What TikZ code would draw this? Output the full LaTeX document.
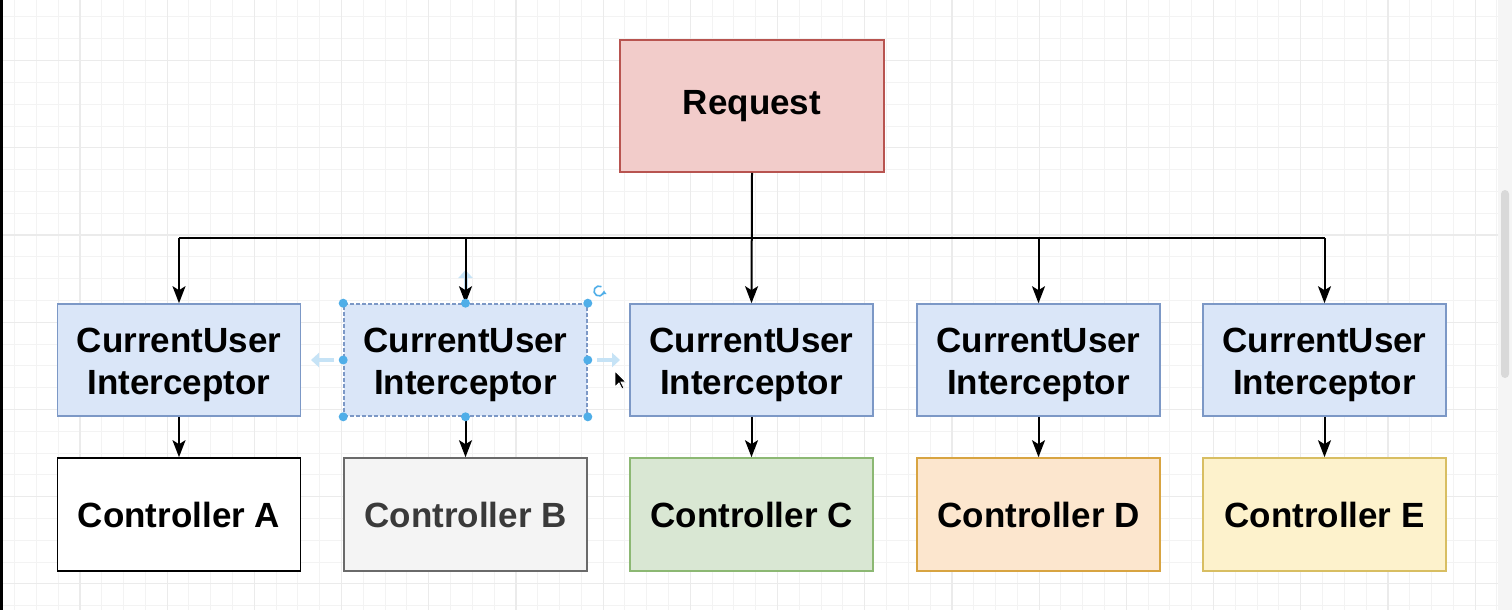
\documentclass[tikz,border=0pt]{standalone}
\usepackage{fontspec}
\setmainfont{Liberation Sans}
\usetikzlibrary{arrows.meta}
\definecolor{reqfill}{HTML}{F2CCCA}
\definecolor{reqdraw}{HTML}{B85450}
\definecolor{intfill}{HTML}{DAE6F8}
\definecolor{intdraw}{HTML}{7C98C6}
\definecolor{bfill}{HTML}{F4F4F4}
\definecolor{bdraw}{HTML}{6A6A6A}
\definecolor{btext}{HTML}{3A3A3A}
\definecolor{cfill}{HTML}{D9E7D3}
\definecolor{cdraw}{HTML}{8CB873}
\definecolor{dfill}{HTML}{FCE6CE}
\definecolor{ddraw}{HTML}{D8A441}
\definecolor{efill}{HTML}{FDF2CC}
\definecolor{edraw}{HTML}{D8BE62}
\definecolor{gridminor}{HTML}{F3F3F3}
\definecolor{gridmajor}{HTML}{EBEBEB}
\definecolor{handle}{HTML}{4FAEE8}
\definecolor{hover}{HTML}{C6E3F6}
\tikzset{
  boxfont/.style={font=\fontsize{35}{42}\selectfont\bfseries},
  boxbase/.style={rectangle, line width=1.6pt, inner sep=0pt, align=center, boxfont},
  reqbox/.style={boxbase, fill=reqfill, draw=reqdraw, minimum width=264pt, minimum height=132pt},
  intbox/.style={boxbase, fill=intfill, draw=intdraw, minimum width=243pt, minimum height=112pt},
  inttext/.style={label={[boxfont, align=center, inner sep=0pt, yshift=-5pt]center:CurrentUser\\Interceptor}},
  ctlbox/.style={boxbase, minimum width=243pt, minimum height=113pt},
  wire/.style={line width=2pt, black},
  arr/.style={wire, -{Stealth[length=17pt,width=13pt,inset=4pt]}},
  hoverarr/.style={line width=4pt, hover, -{Triangle[length=8pt,width=14pt]}},
  handledot/.style={circle, fill=handle, inner sep=0pt, minimum size=9pt}
}
\begin{document}
\begin{tikzpicture}[x=1pt,y=-1pt]
\useasboundingbox (0,0) rectangle (1512,610);
\fill[white] (0,0) rectangle (1512,610);
% grid
\foreach \i in {0,...,68} {\draw[gridminor, line width=1pt] ({14.5+21.8*\i},0) -- ({14.5+21.8*\i},610);}
\foreach \j in {0,...,27} {\draw[gridminor, line width=1pt] (0,{17+21.8*\j}) -- (1512,{17+21.8*\j});}
\foreach \i in {0,...,17} {\draw[gridmajor, line width=1.2pt] ({79.9+87.2*\i},0) -- ({79.9+87.2*\i},610);}
\foreach \j in {0,...,6} {\draw[gridmajor, line width=1.2pt] (0,{60.6+87.2*\j}) -- (1512,{60.6+87.2*\j});}
% left strip and scrollbar
\fill[black] (0,0) rectangle (3,610);
\fill[gray!8] (1498,0) rectangle (1512,610);
\fill[gray!30, rounded corners=4pt] (1501,190) rectangle (1509,378);

% nodes
\node[reqbox] (req) at (752,106) {Request};
\node[intbox, inttext] (iA) at (179,360) {};
\node[intbox, inttext, dash pattern=on 4pt off 2pt] (iB) at (465.5,360) {};
\node[intbox, inttext] (iC) at (751.5,360) {};
\node[intbox, inttext] (iD) at (1038.5,360) {};
\node[intbox, inttext] (iE) at (1324.5,360) {};
\node[ctlbox, fill=white, draw=black] (cA) at (179,514.5) {Controller A};
\node[ctlbox, fill=bfill, draw=bdraw, text=btext] (cB) at (465.5,514.5) {Controller B};
\node[ctlbox, fill=cfill, draw=cdraw] (cC) at (751.5,514.5) {Controller C};
\node[ctlbox, fill=dfill, draw=ddraw] (cD) at (1038.5,514.5) {Controller D};
\node[ctlbox, fill=efill, draw=edraw] (cE) at (1324.5,514.5) {Controller E};

% bus
\coordinate (jA) at (179,238);
\coordinate (jB) at (465.5,238);
\coordinate (jD) at (1038.5,238);
\coordinate (jE) at (1324.5,238);
\draw[wire] (jA) -- (jE);
% hover arrows (editor overlay)
\coordinate (hT0) at (465.5,292);
\coordinate (hT1) at (465.5,270);
\draw[hoverarr] (hT0) -- (hT1);
\coordinate (hL0) at (334,360);
\coordinate (hL1) at (311,360);
\draw[hoverarr] (hL0) -- (hL1);
\coordinate (hR0) at (597,360);
\coordinate (hR1) at (620,360);
\draw[hoverarr] (hR0) -- (hR1);

\draw[arr] (req.south) -- (iC.north);
\draw[arr] (jA) -- (iA.north);
\draw[arr] (jB) -- (iB.north);
\draw[arr] (jD) -- (iD.north);
\draw[arr] (jE) -- (iE.north);
\foreach \k in {A,B,C,D,E} {\draw[arr] (i\k.south) -- (c\k.north);}

% selection handles
\foreach \a in {north west,north,north east,west,east,south west,south,south east}
  {\node[handledot] at (iB.\a) {};}
\coordinate (rot) at (599,291);
\draw[handle, line width=1.6pt, -{Triangle[length=3pt,width=5pt]}] (rot) ++(60:5pt) arc[start angle=60, end angle=360, radius=5pt];
% cursor
\coordinate (cur) at (615,371);
\filldraw[fill=black, draw=white, line width=0.8pt] (cur) -- ++(0,16) -- ++(4,-4) -- ++(3,6) -- ++(2,-1) -- ++(-3,-6) -- ++(5,0) -- cycle;
\end{tikzpicture}
\end{document}
